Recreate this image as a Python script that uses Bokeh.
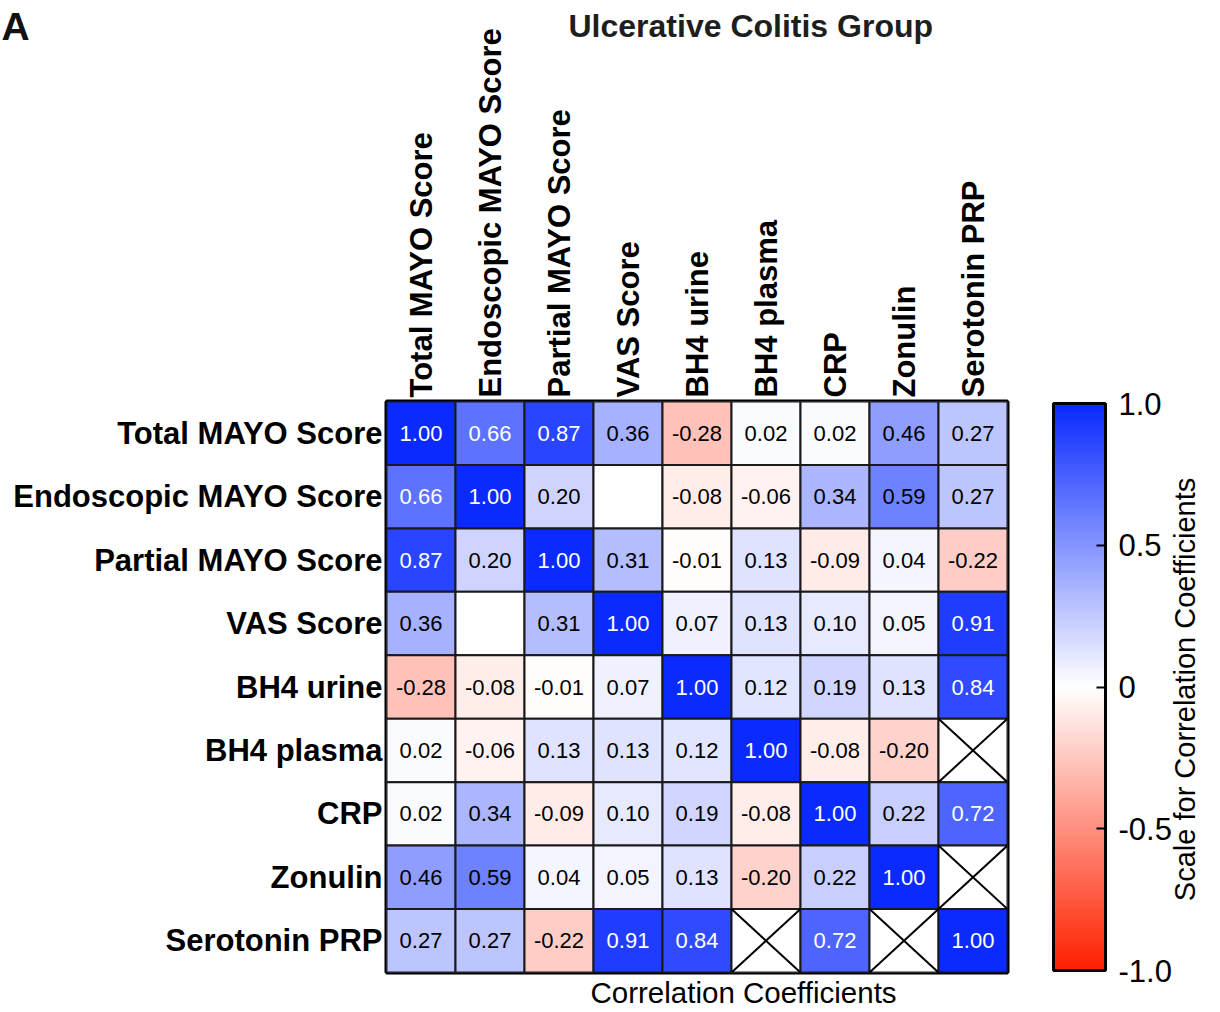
import math

from bokeh.core.properties import value
from bokeh.embed import file_html
from bokeh.models import (CategoricalAxis, ColorBar, ColumnDataSource,
                          FactorRange, FixedTicker, LinearColorMapper, Title)
from bokeh.plotting import figure
from bokeh.resources import INLINE
from bokeh.transform import transform

variables = ["Total MAYO Score", "Endoscopic MAYO Score", "Partial MAYO Score",
             "VAS Score", "BH4 urine", "BH4 plasma", "CRP", "Zonulin",
             "Serotonin PRP"]

# Correlation coefficients, one list per row (None = no coefficient)
r_total = [1.00, 0.66, 0.87, 0.36, -0.28, 0.02, 0.02, 0.46, 0.27]
r_endoscopic = [0.66, 1.00, 0.20, None, -0.08, -0.06, 0.34, 0.59, 0.27]
r_partial = [0.87, 0.20, 1.00, 0.31, -0.01, 0.13, -0.09, 0.04, -0.22]
r_vas = [0.36, None, 0.31, 1.00, 0.07, 0.13, 0.10, 0.05, 0.91]
r_bh4_urine = [-0.28, -0.08, -0.01, 0.07, 1.00, 0.12, 0.19, 0.13, 0.84]
r_bh4_plasma = [0.02, -0.06, 0.13, 0.13, 0.12, 1.00, -0.08, -0.20, None]
r_crp = [0.02, 0.34, -0.09, 0.10, 0.19, -0.08, 1.00, 0.22, 0.72]
r_zonulin = [0.46, 0.59, 0.04, 0.05, 0.13, -0.20, 0.22, 1.00, None]
r_serotonin = [0.27, 0.27, -0.22, 0.91, 0.84, None, 0.72, None, 1.00]

# Pairs without data, drawn crossed out (row, column)
crossed = [("BH4 plasma", "Serotonin PRP"), ("Zonulin", "Serotonin PRP"),
           ("Serotonin PRP", "BH4 plasma"), ("Serotonin PRP", "Zonulin")]

scale_ticks = [-1.0, -0.5, 0.0, 0.5, 1.0]
scale_tick_labels = ["-1.0", "-0.5", "0", "0.5", "1.0"]

rows = [r_total, r_endoscopic, r_partial, r_vas, r_bh4_urine, r_bh4_plasma,
        r_crp, r_zonulin, r_serotonin]

FONT = "Liberation Sans"

# Diverging red - white - blue palette
RED = (255, 32, 0)
BLUE = (10, 42, 255)
WHITE = (255, 255, 255)


def mix(c0, c1, t):
    return "#%02x%02x%02x" % tuple(round(a + (b - a) * t) for a, b in zip(c0, c1))


palette = []
for i in range(256):
    t = -1 + 2 * i / 255
    palette.append(mix(WHITE, RED, -t) if t < 0 else mix(WHITE, BLUE, t))

mapper = LinearColorMapper(palette=palette, low=-1, high=1, nan_color="white")

# Cell table
xs, ys, vals, labels, label_colors = [], [], [], [], []
for rname, rvals in zip(variables, rows):
    for cname, v in zip(variables, rvals):
        xs.append(cname)
        ys.append(rname)
        vals.append(float("nan") if v is None else v)
        labels.append("" if v is None else f"{v:.2f}")
        label_colors.append("white" if (v is not None and v >= 0.6) else "black")

cells = ColumnDataSource(dict(x=xs, y=ys, r=vals, label=labels, color=label_colors))

x0, y0, x1, y1 = [], [], [], []
for rname, cname in crossed:
    # two diagonals per crossed cell
    x0 += [(cname, -0.5), (cname, -0.5)]
    x1 += [(cname, 0.5), (cname, 0.5)]
    y0 += [(rname, 0.5), (rname, -0.5)]
    y1 += [(rname, -0.5), (rname, 0.5)]
crosses = ColumnDataSource(dict(x0=x0, y0=y0, x1=x1, y1=y1))

p = figure(width=1220, height=1012,
           x_range=FactorRange(*variables),
           y_range=FactorRange(*reversed(variables)),
           x_axis_location="above",
           min_border_left=386, min_border_right=213,
           min_border_top=401, min_border_bottom=40,
           output_backend="svg", toolbar_location=None)

p.rect(x="x", y="y", width=1, height=1, source=cells,
       fill_color=transform("r", mapper), line_color="#1a1a1a", line_width=2)
p.segment(x0="x0", y0="y0", x1="x1", y1="y1", source=crosses,
          line_color="black", line_width=2)
p.text(x="x", y="y", text="label", source=cells, text_color="color",
       text_align="center", text_baseline="middle",
       text_font=value(FONT), text_font_size="22px")

p.xaxis.major_label_orientation = math.pi / 2
p.axis.major_label_text_font = FONT
p.axis.major_label_text_font_style = "bold"
p.axis.major_label_text_font_size = "31px"
p.axis.major_label_text_color = "black"
p.axis.major_label_standoff = 4
p.axis.major_tick_out = 0
p.axis.major_tick_in = 0
p.axis.axis_line_color = None
p.axis.major_tick_line_color = None
p.axis.minor_tick_line_color = None
p.grid.grid_line_color = None
p.outline_line_color = "black"
p.outline_line_width = 4
p.background_fill_color = "white"
p.border_fill_color = "white"

cbar = ColorBar(color_mapper=mapper, ticker=FixedTicker(ticks=scale_ticks),
                major_label_overrides=dict(zip(scale_ticks, scale_tick_labels)),
                width=52, height=567, location=(46, 2),
                margin=0, padding=0, label_standoff=13,
                major_label_text_font=FONT, major_label_text_font_size="31px",
                major_label_text_color="black",
                bar_line_color="black", bar_line_width=3,
                major_tick_in=9, major_tick_line_color="black",
                major_tick_line_width=2, minor_tick_line_color=None,
                border_line_color=None, background_fill_color=None)
p.add_layout(cbar, "right")

# Caption of the colour scale: the first of four slots on a side axis,
# so that the text starts low beside the bar and runs upward
p.extra_y_ranges = {"scale_caption": FactorRange(
    "Scale for Correlation Coefficients", " ", "  ", "   ")}
caption_axis = CategoricalAxis(y_range_name="scale_caption",
                               major_label_orientation=math.pi / 2,
                               major_label_text_font=FONT,
                               major_label_text_font_size="29px",
                               major_label_text_color="black",
                               major_label_standoff=10,
                               major_tick_out=0, major_tick_in=0,
                               axis_line_color=None,
                               major_tick_line_color=None)
p.add_layout(caption_axis, "right")

# Caption under the matrix
p.add_layout(Title(text="Correlation Coefficients", align="left", offset=204,
                   vertical_align="bottom",
                   text_font=FONT, text_font_style="normal",
                   text_font_size="29.5px", text_color="black", standoff=3),
             "below")

# Panel letter and heading across the top
p.add_layout(Title(text="A", align="left", offset=-385, vertical_align="bottom",
                   text_font=FONT, text_font_style="bold",
                   text_font_size="39px", text_color="#111111", standoff=-44),
             "above")
p.add_layout(Title(text="Ulcerative Colitis Group", align="left", offset=182,
                   vertical_align="bottom",
                   text_font=FONT, text_font_style="bold",
                   text_font_size="32px", text_color="#1e1e1e", standoff=-39),
             "above")

open("out.html", "w").write(file_html(p, INLINE))
